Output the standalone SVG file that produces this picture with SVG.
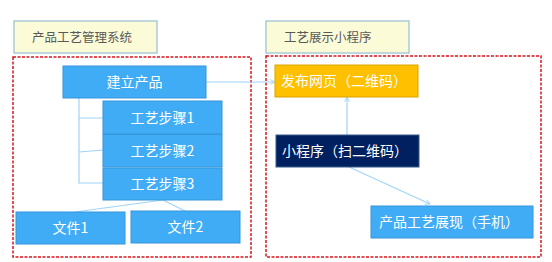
<svg xmlns="http://www.w3.org/2000/svg" width="552" height="262" viewBox="0 0 552 262">
<defs>
<style>
.title{fill:#fbfbd8;stroke:#9ec3d6;stroke-width:1.3}
.tt{font-family:"Noto Sans CJK SC","Microsoft YaHei",sans-serif;font-size:12.5px;fill:#595959}
.zone{fill:none;stroke:#d7141c;stroke-width:1.5;stroke-dasharray:3 1.5}
.blue{fill:#41acf6;stroke:#3596dc;stroke-width:1}
.nt{font-family:"Noto Sans CJK SC","Microsoft YaHei",sans-serif;font-size:14px;fill:#ffffff;text-anchor:middle}
.ln{fill:none;stroke:#9fd4f8;stroke-width:1.2}
</style>
<marker id="ah" viewBox="0 0 10 10" refX="9" refY="5" markerWidth="6" markerHeight="6" orient="auto" markerUnits="userSpaceOnUse">
<path d="M1,1 L9,5 L1,9" fill="none" stroke="#9fd4f8" stroke-width="1.6"/>
</marker>
</defs>
<rect width="552" height="262" fill="#ffffff"/>

<g id="title-left"><rect class="title" x="14" y="21" width="143" height="32"/><text class="tt" x="32" y="42">产品工艺管理系统</text></g>
<g id="title-right"><rect class="title" x="266" y="21" width="143" height="32"/><text class="tt" x="284" y="42">工艺展示小程序</text></g>
<g id="zone-left"><rect class="zone" x="13" y="57" width="238" height="200"/></g>
<g id="zone-right"><rect class="zone" x="266" y="56" width="275" height="201"/></g>

<g id="connectors">
<path class="ln" d="M79,98 V183 H103 M79,118 H103 M79,152 L103,150"/>
<path class="ln" d="M163,200 L75,212 M163,200 L185,211"/>
<path class="ln" d="M206,82 L275,82" marker-end="url(#ah)"/>
<path class="ln" d="M347,135 L347,97" marker-end="url(#ah)"/>
<path class="ln" d="M349,167 L430,204" marker-end="url(#ah)"/>
</g>

<g id="n-build"><rect class="blue" x="63" y="66" width="143" height="32"/><text class="nt" x="134.5" y="87">建立产品</text></g>
<g id="n-step1"><rect class="blue" x="103" y="101" width="119" height="33"/><text class="nt" x="162.5" y="122.5">工艺步骤1</text></g>
<g id="n-step2"><rect class="blue" x="103" y="134.5" width="119" height="32.5"/><text class="nt" x="162.5" y="155.5">工艺步骤2</text></g>
<g id="n-step3"><rect class="blue" x="103" y="168" width="119" height="32"/><text class="nt" x="162.5" y="189">工艺步骤3</text></g>
<g id="n-file1"><rect class="blue" x="16" y="212" width="109" height="32"/><text class="nt" x="70.5" y="233">文件1</text></g>
<g id="n-file2"><rect class="blue" x="131" y="211" width="109" height="32"/><text class="nt" x="185.5" y="232">文件2</text></g>
<g id="n-publish"><rect x="275" y="65" width="143" height="32" fill="#ffc000" stroke="#d9a300" stroke-width="1"/><text class="nt" x="344" y="86">发布网页（二维码）</text></g>
<g id="n-mini"><rect x="276" y="135" width="143" height="32" fill="#002060" stroke="#3a5a8a" stroke-width="1"/><text class="nt" x="345" y="156">小程序（扫二维码）</text></g>
<g id="n-show"><rect class="blue" x="371" y="206" width="162" height="32"/><text class="nt" x="449" y="227">产品工艺展现（手机）</text></g>
</svg>
